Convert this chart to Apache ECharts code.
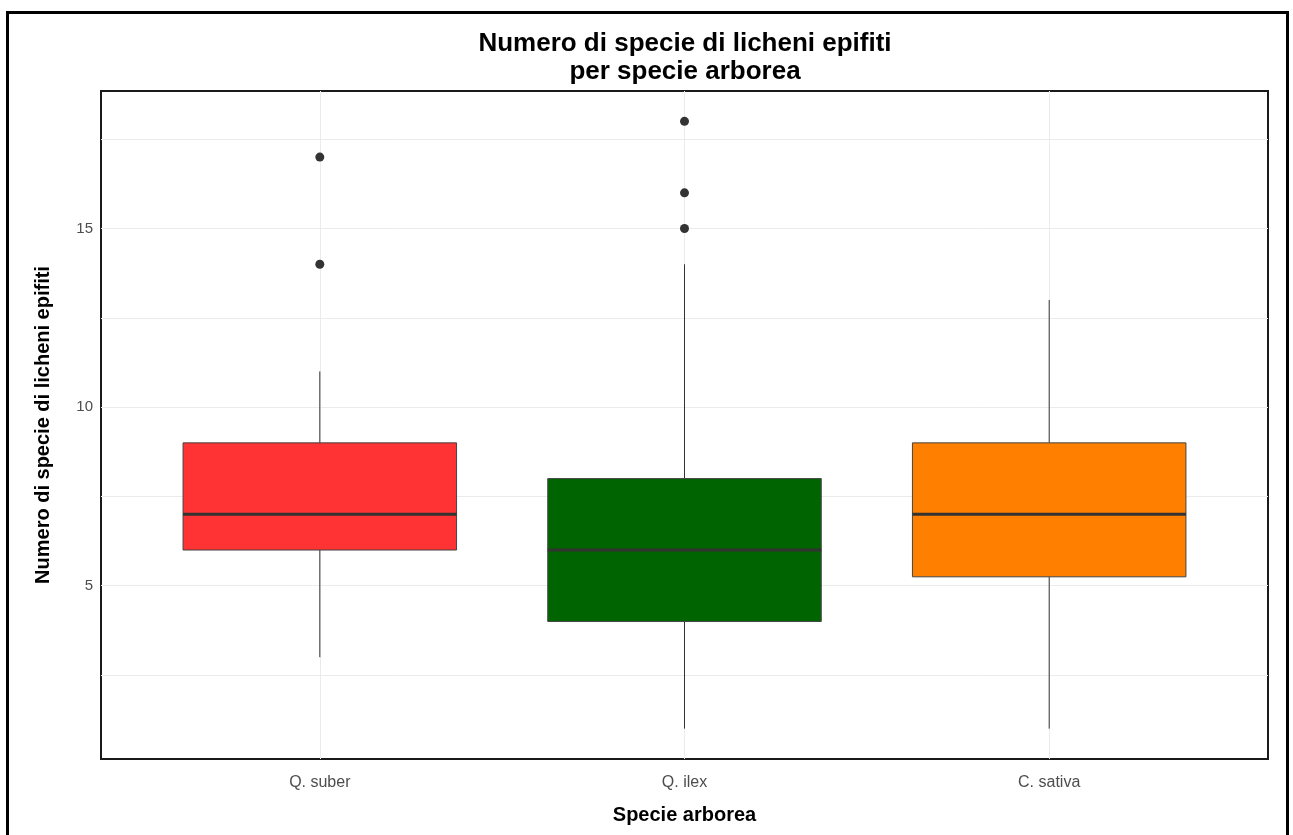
<!DOCTYPE html>
<html>
<head>
<meta charset="utf-8">
<script src="https://cdn.jsdelivr.net/npm/echarts@6/dist/echarts.min.js"></script>
<style>
  html, body { margin: 0; padding: 0; background: #fff; }
  #chart { width: 1293px; height: 835px; }
</style>
</head>
<body>
<div id="chart"></div>
<script>
// boxplot stats
const species = ['Q. suber', 'Q. ilex', 'C. sativa'];
const whiskerLow = [3, 1, 1];
const q1 = [6, 4, 5.25];
const median = [7, 6, 7];
const q3 = [9, 8, 9];
const whiskerHigh = [11, 14, 13];
const outliers = [[14, 17], [15, 16, 18], []];
const yLabels = [5, 10, 15];
const yGridLines = [2.5, 5, 7.5, 10, 12.5, 15, 17.5];

const boxColors = ['#FF3333', '#006400', '#FF8000'];
const font = "'Liberation Sans', Arial, sans-serif";
const boxHalf = 0.375;

const boxData = species.map((s, i) => [i + 1, whiskerLow[i], q1[i], median[i], q3[i], whiskerHigh[i]]);
let outlierData = [];
outliers.forEach((vals, i) => {
    vals.forEach(v => outlierData.push([i + 1, v]));
});

function renderBox(params, api) {
    const x = api.value(0);
    const lo = api.coord([x, api.value(1)]),
          b1 = api.coord([x - boxHalf, api.value(2)]),
          md1 = api.coord([x - boxHalf, api.value(3)]),
          md2 = api.coord([x + boxHalf, api.value(3)]),
          b3 = api.coord([x + boxHalf, api.value(4)]),
          hi = api.coord([x, api.value(5)]);
    const line = { stroke: '#333333', lineWidth: 1 };
    return {
        type: 'group',
        children: [
            { type: 'line', shape: { x1: lo[0], y1: lo[1], x2: lo[0], y2: b1[1] }, style: line },
            { type: 'line', shape: { x1: hi[0], y1: hi[1], x2: hi[0], y2: b3[1] }, style: line },
            {
                type: 'rect',
                shape: { x: b1[0], y: b3[1], width: b3[0] - b1[0], height: b1[1] - b3[1] },
                style: { fill: boxColors[params.dataIndex], stroke: '#444444', lineWidth: 1 }
            },
            { type: 'line', shape: { x1: md1[0], y1: md1[1], x2: md2[0], y2: md2[1] }, style: { stroke: '#333333', lineWidth: 3 } }
        ]
    };
}

const chart = echarts.init(document.getElementById('chart'));
chart.setOption({
    animation: false,
    backgroundColor: '#ffffff',
    textStyle: { fontFamily: font },
    title: {
        text: 'Numero di specie di licheni epifiti\nper specie arborea',
        left: 685,
        textAlign: 'center',
        top: 30,
        padding: 0,
        textStyle: { fontSize: 26, fontWeight: 'bold', color: '#000', lineHeight: 28, fontFamily: font }
    },
    graphic: [{
        type: 'rect',
        shape: { x: 7.5, y: 12.5, width: 1280, height: 840 },
        style: { fill: 'none', stroke: '#000', lineWidth: 3 },
        silent: true
    }],
    grid: {
        left: 101, right: 25, top: 91, bottom: 76,
        show: true, borderColor: '#1a1a1a', borderWidth: 2, backgroundColor: '#fff'
    },
    xAxis: {
        type: 'value',
        min: 0.4,
        max: 3.6,
        name: 'Specie arborea',
        nameLocation: 'middle',
        nameGap: 46,
        nameTextStyle: { fontSize: 20, fontWeight: 'bold', color: '#000', fontFamily: font },
        axisLine: { show: false },
        axisTick: { show: false, customValues: [1, 2, 3] },
        axisLabel: {
            customValues: [1, 2, 3],
            formatter: v => species[Math.round(v) - 1],
            fontSize: 16, color: '#4d4d4d', margin: 16, fontFamily: font
        },
        splitLine: { show: true, lineStyle: { color: '#ebebeb', width: 1 } }
    },
    yAxis: {
        type: 'value',
        min: 0.15,
        max: 18.85,
        name: 'Numero di specie di licheni epifiti',
        nameLocation: 'middle',
        nameGap: 48,
        nameTextStyle: { fontSize: 20, fontWeight: 'bold', color: '#000', fontFamily: font },
        axisLine: { show: false },
        axisTick: { show: false, customValues: yGridLines },
        axisLabel: {
            customValues: yLabels,
            fontSize: 15, color: '#4d4d4d', margin: 8, fontFamily: font
        },
        splitLine: { show: true, lineStyle: { color: '#ebebeb', width: 1 } }
    },
    series: [
        {
            type: 'custom',
            renderItem: renderBox,
            data: boxData,
            encode: { x: 0, y: [1, 2, 3, 4, 5] },
            z: 3
        },
        {
            type: 'scatter',
            data: outlierData,
            symbolSize: 9,
            itemStyle: { color: '#333333', opacity: 1 },
            z: 4
        }
    ]
});
</script>
</body>
</html>
